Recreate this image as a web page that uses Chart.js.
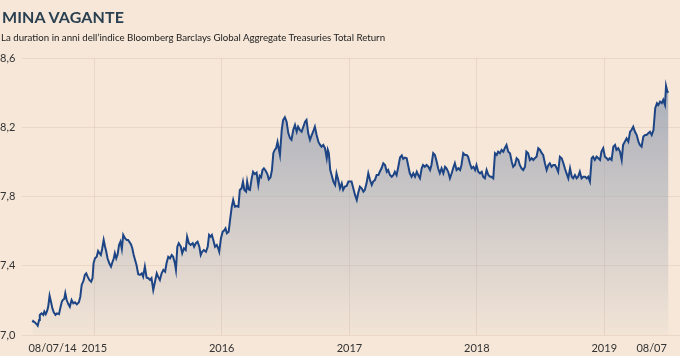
<!DOCTYPE html>
<html>
<head>
<meta charset="utf-8">
<script src="https://cdn.jsdelivr.net/npm/chart.js@4"></script>
<style>
  html,body{margin:0;padding:0;background:#f6e7d8;}
  #wrap{position:relative;width:680px;height:356px;overflow:hidden;background:#f6e7d8;}
  #title{position:absolute;left:2px;top:7px;font-family:Lato,sans-serif;font-weight:700;font-size:16px;color:#2a4050;letter-spacing:0.1px;white-space:nowrap;}
  #sub{position:absolute;left:1px;top:31px;font-family:Lato,sans-serif;font-size:9.7px;color:#222;white-space:nowrap;}
  canvas{position:absolute;left:0;top:0;}
</style>
</head>
<body>
<div id="wrap">
  <canvas id="c" width="680" height="356"></canvas>
  <div id="title">MINA VAGANTE</div>
  <div id="sub">La duration in anni dell’indice Bloomberg Barclays Global Aggregate Treasuries Total Return</div>
</div>
<script>
// days since 08/07/2014
const days = [0,2,7,12,15,19,21,26,31,34,
38,42,45,49,53,57,61,66,70,76,
80,84,87,91,94,98,103,107,112,117,
122,127,133,137,141,146,150,154,158,163,
168,172,175,179,184,188,192,196,200,204,
208,211,215,220,225,229,233,236,240,244,
248,252,256,260,265,270,274,282,286,290,
294,298,303,308,313,317,322,327,332,337,
341,346,351,356,360,365,370,375,380,384,
389,394,399,403,408,411,415,419,425,429,
434,439,443,448,453,459,463,468,473,478,
482,486,491,497,502,506,510,514,518,523,
528,532,535,540,545,549,553,557,562,566,
571,575,580,585,590,594,599,603,607,612,
615,619,623,628,632,637,642,647,651,655,
659,663,668,673,677,682,686,690,694,698,
702,709,714,718,723,728,733,738,742,747,
752,757,761,766,771,776,781,785,790,795,
800,804,809,814,819,824,828,833,838,843,
846,849,853,857,862,867,871,876,881,886,
890,895,900,905,909,914,919,924,929,933,
938,943,948,952,957,962,967,972,976,981,
986,991,995,1000,1005,1010,1015,1019,1024,1029,
1034,1038,1043,1048,1053,1058,1062,1067,1072,1076,
1081,1086,1091,1096,1101,1105,1110,1115,1119,1124,
1129,1134,1139,1143,1148,1153,1158,1162,1167,1172,
1177,1182,1186,1191,1196,1201,1205,1210,1215,1220,
1225,1229,1234,1239,1244,1248,1253,1258,1263,1268,
1272,1277,1282,1287,1291,1296,1301,1306,1311,1315,
1320,1325,1330,1334,1339,1344,1349,1353,1358,1363,
1368,1373,1377,1382,1387,1392,1396,1401,1406,1411,
1415,1420,1425,1430,1435,1439,1444,1449,1454,1459,
1463,1468,1473,1478,1482,1487,1492,1497,1502,1506,
1511,1516,1521,1525,1530,1535,1540,1545,1549,1554,
1559,1563,1568,1573,1578,1583,1588,1592,1597,1602,
1606,1611,1616,1621,1626,1630,1635,1640,1645,1649,
1654,1659,1664,1669,1673,1678,1683,1688,1692,1697,
1702,1707,1712,1716,1721,1726,1731,1736,1740,1745,
1750,1755,1759,1764,1769,1774,1779,1784,1789,1793,
1798,1803,1807,1812,1815,1819,1822];

const durations = [7.073,7.081,7.073,7.062,7.054,7.087,7.116,7.125,7.116,7.135,
7.120,7.139,7.163,7.227,7.192,7.154,7.131,7.116,7.125,7.120,
7.158,7.192,7.202,7.208,7.241,7.202,7.177,7.163,7.202,7.183,
7.189,7.177,7.189,7.221,7.289,7.312,7.347,7.356,7.337,7.318,
7.308,7.328,7.414,7.443,7.452,7.485,7.472,7.462,7.501,7.549,
7.510,7.485,7.443,7.414,7.395,7.420,7.443,7.472,7.443,7.466,
7.520,7.539,7.497,7.578,7.559,7.549,7.549,7.524,7.501,7.462,
7.433,7.404,7.351,7.347,7.356,7.337,7.395,7.331,7.328,7.318,
7.328,7.260,7.308,7.356,7.337,7.318,7.356,7.376,7.366,7.414,
7.452,7.443,7.462,7.452,7.414,7.376,7.510,7.530,7.510,7.472,
7.501,7.491,7.568,7.530,7.520,7.530,7.510,7.530,7.539,7.510,
7.462,7.481,7.491,7.481,7.510,7.578,7.568,7.578,7.549,7.510,
7.520,7.501,7.481,7.559,7.597,7.603,7.616,7.588,7.597,7.664,
7.741,7.780,7.741,7.745,7.741,7.838,7.847,7.886,7.838,7.828,
7.886,7.842,7.838,7.905,7.943,7.930,7.938,7.867,7.919,7.911,
7.953,7.963,7.949,7.930,7.899,7.911,7.953,8.050,8.069,8.079,
8.115,8.040,8.184,8.242,8.258,8.232,8.165,8.136,8.127,8.184,
8.213,8.174,8.203,8.184,8.174,8.203,8.232,8.242,8.165,8.127,
8.155,8.174,8.203,8.155,8.117,8.098,8.088,8.098,8.079,8.021,
8.069,8.050,7.953,7.924,7.886,7.867,7.934,7.895,7.847,7.876,
7.838,7.857,7.861,7.886,7.886,7.886,7.847,7.809,7.780,7.819,
7.857,7.847,7.828,7.838,7.876,7.934,7.895,7.867,7.886,7.895,
7.924,7.924,7.943,7.963,7.992,7.982,7.943,7.953,7.924,7.914,
7.924,7.943,7.924,7.972,8.025,8.037,8.017,8.025,8.021,7.982,
7.934,7.914,7.934,7.914,7.943,7.924,7.905,7.963,7.982,7.972,
7.982,7.972,7.953,7.982,8.050,8.040,8.001,7.963,7.934,7.963,
7.934,7.972,7.963,7.943,7.905,7.934,7.963,7.992,7.953,7.963,
7.953,7.982,8.050,8.040,8.040,8.030,7.992,7.963,7.972,7.953,
7.982,7.943,7.934,7.943,7.914,7.905,7.953,7.924,7.914,7.914,
7.905,8.050,8.040,8.059,8.050,8.069,8.059,8.079,8.098,8.059,
8.050,8.001,7.972,7.982,8.021,8.011,7.982,7.963,7.953,7.972,
8.059,8.050,8.011,8.021,8.011,8.021,8.030,8.079,8.069,8.050,
8.040,7.992,7.953,7.982,7.992,7.972,7.982,7.982,7.963,7.943,
8.030,8.021,7.992,7.963,7.934,7.905,7.963,7.914,7.905,7.924,
7.905,7.914,7.943,7.905,7.914,7.914,7.905,7.914,7.886,8.021,
8.030,8.011,8.030,8.021,8.011,8.059,8.079,8.030,8.021,8.011,
8.021,8.011,8.088,8.098,8.069,8.079,8.059,8.011,8.098,8.117,
8.136,8.117,8.174,8.184,8.203,8.174,8.155,8.117,8.098,8.088,
8.146,8.155,8.155,8.165,8.174,8.155,8.184,8.310,8.339,8.329,
8.348,8.339,8.358,8.329,8.439,8.405,8.400];

const xTickDays = [0,177,542,908,1273,1638,1826];
const xTickLabels = ['08/07/14','2015','2016','2017','2018','2019','08/07'];
const yTicks = [7.0,7.4,7.8,8.2,8.6];

const points = days.map((d,i)=>({x:d,y:durations[i]}));

const xLabelPlugin = {
  id:'xLabels',
  afterDraw(chart){
    const s = chart.scales.x, ctx = chart.ctx;
    ctx.save();
    ctx.font = '11px Lato, sans-serif';
    ctx.fillStyle = '#333';
    ctx.textBaseline = 'middle';
    xTickDays.forEach((d,i)=>{
      let px = s.getPixelForValue(d);
      if(i===0){ctx.textAlign='left'; px -= 4;}
      else if(i===xTickDays.length-1){ctx.textAlign='right'; px -= 3;}
      else ctx.textAlign='center';
      ctx.fillText(xTickLabels[i], px, 348);
    });
    ctx.restore();
  }
};

new Chart(document.getElementById('c'),{
  type:'line',
  data:{datasets:[{
    data:points,
    borderColor:'#1d4585',
    borderWidth:2,
    pointRadius:0,
    tension:0,
    fill:'start',
    backgroundColor:(ctx)=>{
      const ca = ctx.chart.chartArea;
      if(!ca) return 'rgba(150,160,178,0.4)';
      const g = ctx.chart.ctx.createLinearGradient(0,ca.top,0,ca.bottom);
      g.addColorStop(0,'rgba(150,160,178,0.88)');
      g.addColorStop(1,'rgba(150,160,178,0.04)');
      return g;
    }
  }]},
  options:{
    responsive:false,
    animation:false,
    events:[],
    layout:{padding:{top:58,right:0,bottom:0,left:0}},
    plugins:{legend:{display:false},tooltip:{enabled:false}},
    scales:{
      x:{
        type:'linear',
        min:-30,max:1855,
        afterBuildTicks:(s)=>{ s.ticks = xTickDays.slice(1,-1).map(v=>({value:v})); },
        afterFit:(s)=>{ s.height = 21; },
        ticks:{display:false},
        grid:{color:'rgba(190,160,130,0.22)',lineWidth:1,drawTicks:false},
        border:{display:false}
      },
      y:{
        min:7.0,max:8.6,
        afterBuildTicks:(s)=>{ s.ticks = yTicks.map(v=>({value:v})); },
        afterFit:(s)=>{ s.width = 22; },
        ticks:{
          crossAlign:'far',
          padding:0,
          color:'#333',
          font:{family:'Lato, sans-serif',size:11},
          callback:(v)=>Number(v).toFixed(1).replace('.',',')
        },
        grid:{color:'rgba(190,160,130,0.22)',lineWidth:1,drawTicks:false},
        border:{display:false}
      }
    }
  },
  plugins:[xLabelPlugin]
});
</script>
</body>
</html>
